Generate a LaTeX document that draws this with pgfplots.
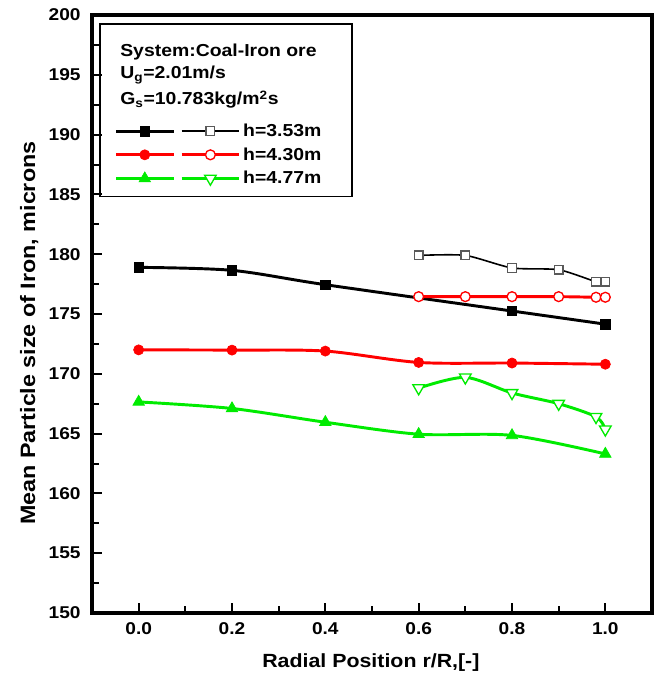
\documentclass[border=0pt]{standalone}
\usepackage{fontspec}
\setmainfont{Liberation Sans}[FakeStretch=1.12]
\usepackage{pgfplots}
\pgfplotsset{compat=1.18}
\definecolor{pgreen}{RGB}{0,235,0}
\definecolor{pred}{RGB}{255,0,0}
\begin{document}
\begin{tikzpicture}
\begin{axis}[
  scale only axis, width=420pt, height=448.5pt,
  xmin=-0.1, xmax=1.1, ymin=150, ymax=200,
  xtick={0,0.2,0.4,0.6,0.8,1.0}, minor x tick num=1,
  ytick={150,155,...,200}, minor y tick num=1,
  tick pos=left, tick align=inside,
  major tick length=7.5pt, minor tick length=5pt,
  every tick/.style={line width=1.5pt, black},
  axis line style={line width=2.4pt},
  /pgf/number format/assume math mode=true,
  ticklabel style={font=\bfseries\fontsize{12.8}{14}\selectfont},
  xticklabel style={/pgf/number format/fixed, /pgf/number format/fixed zerofill, /pgf/number format/precision=1, yshift=-4pt},
  yticklabel style={xshift=-5pt},
  xlabel={Radial Position r/R,[-]},
  ylabel={Mean Particle size of Iron, microns},
  every axis x label/.style={at={(axis description cs:0.498,-0.0836)}, anchor=center, font=\bfseries\fontsize{14.3}{16}\selectfont},
  every axis y label/.style={at={(axis description cs:-0.112,0.468)}, anchor=center, rotate=90, font=\bfseries\fontsize{15.6}{17}\selectfont},
  legend columns=2,
  legend style={draw=none, fill=none, at={(rel axis cs:0.04,0.823)}, anchor=north west,
    font=\bfseries\fontsize{13}{15}\selectfont, inner sep=0pt,
    row sep=2.9pt, column sep=0pt,
    nodes={inner sep=2pt}},
  legend image code/.code={\draw[mark repeat=2,mark phase=2,#1] plot coordinates {(0pt,0pt) (21.5pt,0pt) (43pt,0pt)};},
  clip=false,
]
\addplot[black, line width=2.2pt, smooth, tension=0.5, mark=square*, mark size=3.6pt, mark options={solid, line width=0.5pt}]
  coordinates {(0,178.9) (0.2,178.65) (0.4,177.45) (0.8,175.25) (1.0,174.15)};
\addlegendentry{}
\addplot[black, line width=1.2pt, smooth, tension=0.4, mark=square*, mark size=3.2pt, mark options={solid, draw=black!65, fill=white, line width=1pt}]
  coordinates {(0.6,179.9) (0.7,179.9) (0.8,178.85) (0.9,178.7) (0.98,177.7) (1.0,177.7)};
\addlegendentry{h=3.53m}
\addplot[pred, line width=2.2pt, smooth, tension=0.5, mark=*, mark size=3.8pt, mark options={solid, line width=0.5pt}]
  coordinates {(0,172.0) (0.2,171.98) (0.4,171.9) (0.6,170.95) (0.8,170.9) (1.0,170.8)};
\addlegendentry{}
\addplot[pred, line width=2.2pt, smooth, tension=0.5, mark=*, mark size=3.7pt, mark options={solid, draw=pred, fill=white, line width=1pt}]
  coordinates {(0.6,176.45) (0.7,176.45) (0.8,176.45) (0.9,176.45) (0.98,176.4) (1.0,176.4)};
\addlegendentry{h=4.30m}
\addplot[pgreen, line width=2.2pt, smooth, tension=0.5, mark=triangle*, mark size=5pt, mark options={solid, line width=0.5pt}]
  coordinates {(0,167.65) (0.2,167.1) (0.4,165.95) (0.6,164.95) (0.8,164.85) (1.0,163.3)};
\addlegendentry{}
\addplot[pgreen, line width=2.2pt, smooth, tension=0.5, mark=triangle*, mark size=5pt, mark options={solid, rotate=180, draw=pgreen, fill=white, line width=1pt}]
  coordinates {(0.6,168.8) (0.7,169.7) (0.8,168.4) (0.9,167.5) (0.98,166.4) (1.0,165.35)};
\addlegendentry{h=4.77m}
\draw[line width=1pt] (rel axis cs:0.0143,0.696) rectangle (rel axis cs:0.464,0.985);
\node[anchor=base west, inner sep=0pt, font=\bfseries\fontsize{13}{15}\selectfont] at (rel axis cs:0.05,0.9298) {System:Coal-Iron ore};
\node[anchor=base west, inner sep=0pt, font=\bfseries\fontsize{13}{15}\selectfont] at (rel axis cs:0.05,0.893) {U\textsubscript{g}=2.01m/s};
\node[anchor=base west, inner sep=0pt, font=\bfseries\fontsize{13}{15}\selectfont] at (rel axis cs:0.05,0.8495) {G\textsubscript{s}=10.783kg/m\textsuperscript{2}s};
\coordinate (bl) at (rel axis cs:0,0);
\coordinate (tr) at (rel axis cs:1,1);
\end{axis}
\pgfresetboundingbox
\path[use as bounding box] ([shift={(-69pt,-45.75pt)}]bl) rectangle ([shift={(6.75pt,11.25pt)}]tr);
\end{tikzpicture}
\end{document}
